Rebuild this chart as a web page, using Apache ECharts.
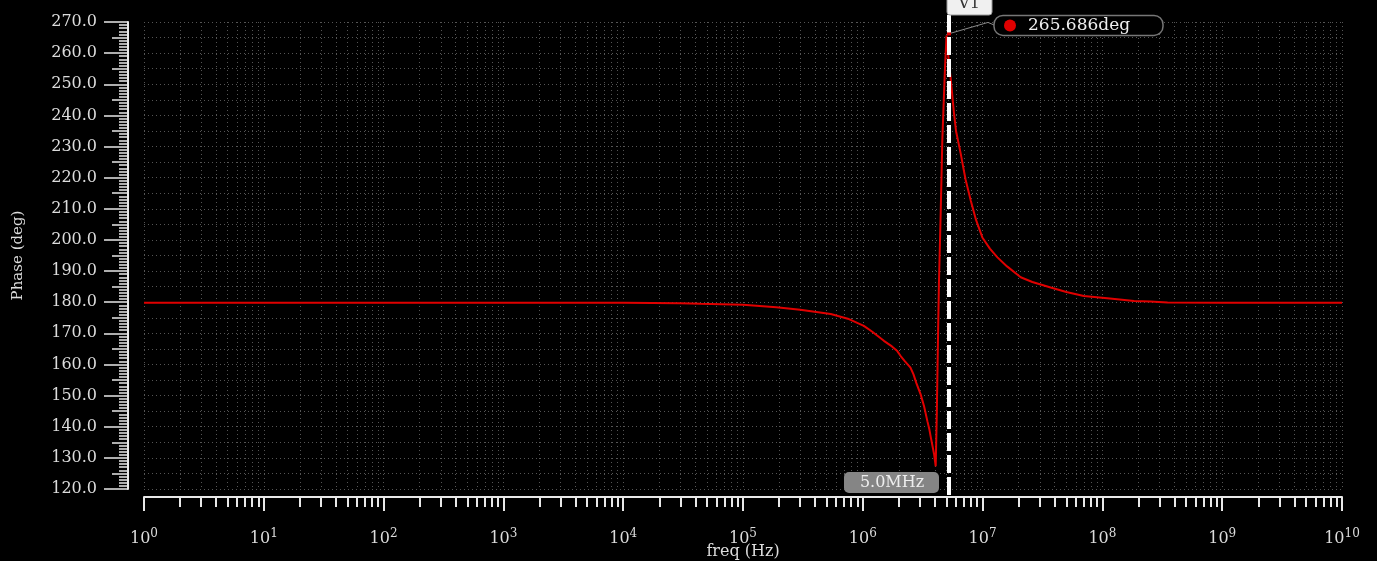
<!DOCTYPE html>
<html><head><meta charset="utf-8">
<script src="https://cdn.jsdelivr.net/npm/echarts@6/dist/echarts.min.js"></script>
<style>html,body{margin:0;padding:0;background:#000;}#c{width:1377px;height:561px;}</style>
</head><body><div id="c"></div>
<script>
// ---- data ----
const freqHz = [1, 10, 100, 1e3, 1e4, 3e4, 4.4e4, 1e5, 1.9e5, 3e5, 5.4e5, 7.5e5, 1.02e6, 1.2e6, 1.5e6, 1.75e6, 1.94e6, 2.07e6, 2.25e6, 2.5e6, 2.65e6, 2.8e6, 3.04e6, 3.25e6, 3.46e6, 3.6e6, 3.7e6, 3.94e6, 4.06e6, 4.15e6, 4.25e6, 4.32e6, 4.47e6, 4.61e6, 4.85e6, 5.0e6, 5.2e6, 5.4e6, 5.77e6, 6.0e6, 6.56e6, 7.2e6, 7.96e6, 8.8e6, 9.95e6, 1.15e7, 1.33e7, 1.6e7, 2.08e7, 2.6e7, 3.7e7, 5e7, 7e7, 1.1e8, 1.84e8, 2.5e8, 3.5e8, 1e9, 1e10];
const phaseDeg = [179.8, 179.8, 179.8, 179.8, 179.8, 179.7, 179.5, 179.2, 178.4, 177.6, 176.2, 174.7, 172.4, 170.5, 167.6, 165.8, 164.3, 162.7, 161.0, 159.0, 156.8, 154.0, 150.4, 146.5, 141.8, 139.0, 136.5, 131.1, 127.3, 145.0, 170.0, 186.0, 209.0, 232.0, 255.0, 265.686, 258.0, 252.4, 240.7, 235.0, 227.8, 219.5, 212.7, 206.5, 200.8, 197.2, 194.4, 191.5, 188.0, 186.5, 184.7, 183.3, 182.0, 181.3, 180.4, 180.2, 179.9, 179.8, 179.8];
const cursorName = 'V1';
const cursorFreq = 5.0e6;
const cursorPhase = 265.686;
const yMin = 120, yMax = 270;
const xMin = 1, xMax = 1e10;
const decadeCount = 10;
const minorMultipliers = [2, 3, 4, 5, 6, 7, 8, 9];
const xAxisName = 'freq (Hz)';
const yAxisName = 'Phase (deg)';

// minor tick positions (in decades) for the helper axis
const minorTickDecades = [];
for (let k = 0; k < decadeCount; k++) {
  minorMultipliers.forEach(m => minorTickDecades.push(k + Math.log10(m)));
}

const FONT = 'DejaVu Serif';
const LABEL = '#dcdcdc';
const AXIS = '#e8e8e8';
const gridLine = { show: true, lineStyle: { color: '#555', type: [1, 3], width: 1 } };

function renderCursor(params, api) {
  const f = api.value(0), v = api.value(1);
  const p = api.coord([f, v]);
  const yTop = api.coord([f, yMax])[1];
  const yBot = api.coord([f, yMin])[1];
  const x = Math.round(p[0]) + 2;
  const font = '16px "' + FONT + '"';
  return {
    type: 'group',
    children: [
      { type: 'line', shape: { x1: x, y1: yTop - 7, x2: x, y2: yBot + 7 },
        style: { stroke: '#ffffff', lineWidth: 4, lineDash: [18, 4] } },
      { type: 'rect', shape: { x: x - 2, y: yTop - 28, width: 45, height: 21, r: 3 },
        style: { fill: '#f0f0f0', stroke: '#9a9a9a', lineWidth: 1 } },
      { type: 'text', style: { text: cursorName, x: x + 20, y: yTop - 18, align: 'center', verticalAlign: 'middle', font: font, fill: '#333' } },
      { type: 'rect', shape: { x: x - 105, y: yBot - 17, width: 95, height: 21, r: 5 },
        style: { fill: '#858585' } },
      { type: 'text', style: { text: (f / 1e6).toFixed(1) + 'MHz', x: x - 57, y: yBot - 6, align: 'center', verticalAlign: 'middle', font: font, fill: '#eeeeee' } },
      { type: 'polyline', shape: { points: [[x + 1, p[1] - 2], [x + 39, p[1] - 13], [x + 46, p[1] - 10]] },
        style: { stroke: '#8a8a8a', lineWidth: 1, fill: null } },
      { type: 'rect', shape: { x: x + 45, y: p[1] - 20, width: 169, height: 20, r: 9 },
        style: { fill: '#000', stroke: '#777', lineWidth: 1.5 } },
      { type: 'circle', shape: { cx: x + 61, cy: p[1] - 10, r: 6 }, style: { fill: '#e00000' } },
      { type: 'text', style: { text: v.toFixed(3) + 'deg', x: x + 79, y: p[1] - 10, align: 'left', verticalAlign: 'middle', font: '17px "' + FONT + '"', fill: '#eeeeee' } },
      { type: 'rect', shape: { x: x - 2, y: p[1] - 3, width: 4, height: 3 }, style: { fill: '#e00000' } }
    ]
  };
}

const chart = echarts.init(document.getElementById('c'), null, { renderer: 'canvas' });
chart.setOption({
  backgroundColor: '#000',
  animation: false,
  grid: { left: 144, right: 35, top: 22, bottom: 72, outerBoundsMode: 'none', containLabel: false },
  xAxis: [
    {
      // data axis (log scale) used to place the curve and cursor
      type: 'log', logBase: 10, min: xMin, max: xMax,
      position: 'bottom', show: false
    },
    {
      // decade ticks / labels
      type: 'value', min: 0, max: decadeCount, interval: 1,
      position: 'bottom', offset: 8,
      name: xAxisName, nameLocation: 'middle', nameGap: 47, nameMoveOverlap: false,
      nameTextStyle: { color: LABEL, fontFamily: FONT, fontSize: 16 },
      axisLine: { show: true, onZero: false, lineStyle: { color: AXIS, width: 2 } },
      axisTick: { show: true, length: 14, lineStyle: { color: AXIS, width: 2 } },
      splitLine: gridLine,
      axisLabel: {
        color: LABEL, fontFamily: FONT, fontSize: 16, margin: 31,
        formatter: v => '10{s|' + Math.round(v) + '}',
        rich: { s: { fontSize: 12, fontFamily: FONT, color: LABEL, padding: [0, 0, 9, 0] } }
      }
    },
    {
      // minor (2..9) ticks
      type: 'value', min: 0, max: decadeCount,
      position: 'bottom', offset: 8,
      axisLine: { show: false, onZero: false },
      axisTick: { show: true, length: 10, customValues: minorTickDecades, lineStyle: { color: AXIS, width: 2 } },
      axisLabel: { show: false },
      splitLine: gridLine
    }
  ],
  yAxis: [
    {
      type: 'value', min: yMin, max: yMax, interval: 5,
      position: 'left', offset: 16,
      name: yAxisName, nameLocation: 'middle', nameGap: 102, nameRotate: 90, nameMoveOverlap: false,
      nameTextStyle: { color: LABEL, fontFamily: FONT, fontSize: 15 },
      axisLine: { show: true, onZero: false, lineStyle: { color: AXIS, width: 2 } },
      axisTick: { show: true, length: 16, lineStyle: { color: AXIS, width: 1.5 } },
      minorTick: { show: true, splitNumber: 5, length: 9, lineStyle: { color: AXIS, width: 1.5 } },
      minorSplitLine: { show: false },
      splitLine: gridLine,
      axisLabel: {
        color: LABEL, fontFamily: FONT, fontSize: 16, margin: 31,
        formatter: v => (v % 10 === 0 ? v.toFixed(1) : '')
      }
    },
    {
      type: 'value', min: yMin, max: yMax, interval: 10,
      position: 'left', offset: 16,
      axisLine: { show: false, onZero: false },
      axisTick: { show: true, length: 24, lineStyle: { color: AXIS, width: 1.5 } },
      axisLabel: { show: false },
      splitLine: { show: false }
    }
  ],
  series: [
    {
      type: 'line', xAxisIndex: 0, yAxisIndex: 0,
      data: freqHz.map((f, i) => [f, phaseDeg[i]]),
      showSymbol: false, symbol: 'none',
      lineStyle: { color: '#e00000', width: 2 },
      itemStyle: { color: '#e00000' },
      z: 3
    },
    {
      type: 'custom', xAxisIndex: 0, yAxisIndex: 0,
      data: [[cursorFreq, cursorPhase]],
      renderItem: renderCursor,
      clip: false, silent: true, z: 10
    }
  ]
});
</script>
</body></html>
